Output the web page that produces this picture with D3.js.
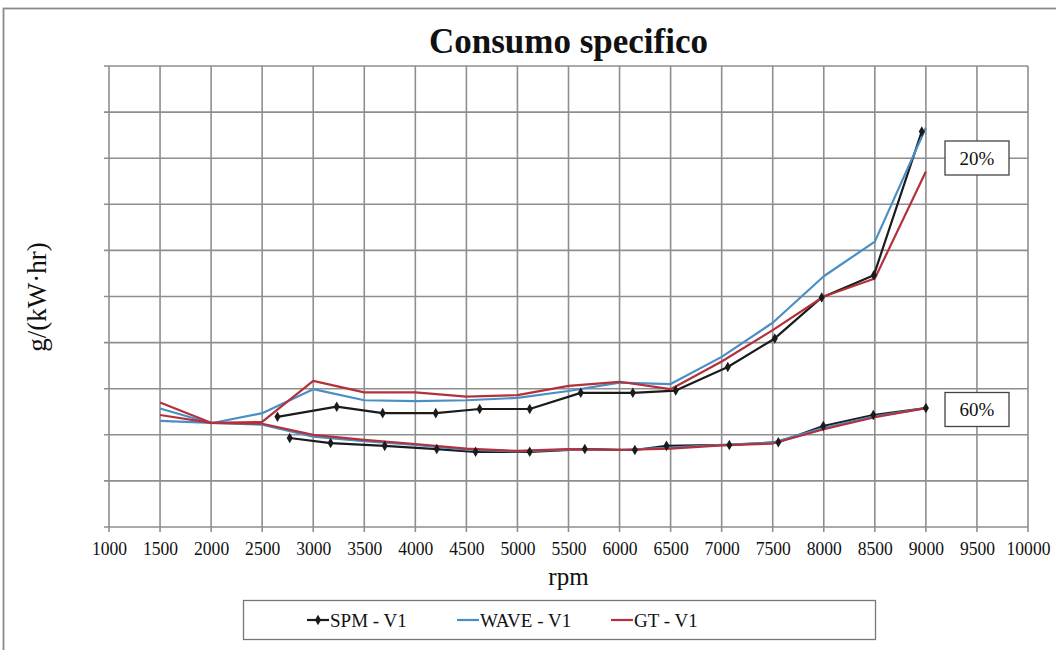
<!DOCTYPE html>
<html>
<head>
<meta charset="utf-8">
<script src="https://cdn.jsdelivr.net/npm/d3@7"></script>
<style>
  html, body { margin: 0; padding: 0; background: #fff; }
  svg { display: block; }
  text { font-family: "Liberation Serif", "Times New Roman", serif; fill: #111; }
</style>
</head>
<body>
<svg id="chart" width="1056" height="650"></svg>
<script>
// Engine speed ticks (rpm)
const rpmTicks = [1000,1500,2000,2500,3000,3500,4000,4500,5000,5500,6000,6500,7000,7500,8000,8500,9000,9500,10000];
// Vertical grid levels (specific consumption, grid units)
const yTicks = [0,1,2,3,4,5,6,7,8,9,10];

// SPM - V1, 20% load
const spm20Rpm = [2650,3230,3680,4200,4630,5120,5620,6130,6550,7060,7520,7980,8490,8960];
const spm20Val = [2.39,2.61,2.47,2.47,2.56,2.56,2.91,2.91,2.96,3.47,4.09,4.98,5.46,8.58];
// SPM - V1, 60% load
const spm60Rpm = [2770,3170,3700,4210,4590,5120,5660,6150,6460,7075,7555,7995,8485,9000];
const spm60Val = [1.93,1.82,1.76,1.69,1.63,1.63,1.69,1.67,1.76,1.78,1.84,2.19,2.43,2.58];

// WAVE / GT simulations share the same rpm sweep
const simRpm = [1500,2000,2500,3000,3500,4000,4500,5000,5500,6000,6500,7000,7500,8000,8500,9000];
const wave20Val = [2.57,2.25,2.47,2.99,2.75,2.73,2.75,2.80,2.95,3.13,3.10,3.69,4.43,5.44,6.19,8.66];
const wave60Val = [2.30,2.26,2.22,1.96,1.86,1.78,1.68,1.64,1.68,1.67,1.72,1.78,1.83,2.15,2.40,2.58];
const gt20Val   = [2.70,2.26,2.28,3.17,2.92,2.92,2.83,2.86,3.06,3.15,2.99,3.59,4.27,5.00,5.39,7.71];
const gt60Val   = [2.43,2.26,2.24,2.00,1.89,1.80,1.70,1.65,1.69,1.67,1.70,1.77,1.81,2.12,2.38,2.58];

const seriesNames = ["SPM - V1", "WAVE - V1", "GT - V1"];
const seriesColors = ["#1b1b1b", "#4a8fc4", "#b4303c"];
const loadLabels = ["20%", "60%"];

const svg = d3.select("#chart");
const plot = { left: 109, right: 1028, top: 66, bottom: 527 };

const x = d3.scaleLinear().domain([1000, 10000]).range([plot.left, plot.right]);
const y = d3.scaleLinear().domain([0, 10]).range([plot.bottom, plot.top]);

// outer frame
svg.append("rect")
  .attr("x", 3.5).attr("y", 8.5).attr("width", 1100).attr("height", 700)
  .attr("fill", "none").attr("stroke", "#8a8a8a").attr("stroke-width", 1.8);

// grid lines (with short outside ticks)
const gridColor = "#8e8e8e";
svg.append("g").selectAll("line").data(rpmTicks).join("line")
  .attr("x1", d => x(d)).attr("x2", d => x(d))
  .attr("y1", plot.top).attr("y2", plot.bottom + 5)
  .attr("stroke", gridColor).attr("stroke-width", 1.6);
svg.append("g").selectAll("line").data(yTicks).join("line")
  .attr("x1", plot.left - 5).attr("x2", plot.right)
  .attr("y1", d => y(d)).attr("y2", d => y(d))
  .attr("stroke", gridColor).attr("stroke-width", 1.6);

// x axis labels (slightly condensed serif)
const xAxis = d3.axisBottom(x).tickValues(rpmTicks).tickSize(0).tickPadding(14).tickFormat(d3.format("d"));
const gx = svg.append("g").attr("transform", `translate(0,${plot.bottom})`).call(xAxis);
gx.select(".domain").remove();
gx.selectAll("text")
  .style("font-family", '"Liberation Serif", serif')
  .style("font-size", "19.5px").attr("fill", "#111")
  .attr("transform", "scale(0.9,1)");

// titles
svg.append("text").attr("x", (plot.left + plot.right) / 2).attr("y", 53)
  .attr("text-anchor", "middle").attr("font-weight", "bold").attr("font-size", 35)
  .text("Consumo specifico");
svg.append("text").attr("x", (plot.left + plot.right) / 2).attr("y", 585)
  .attr("text-anchor", "middle").attr("font-size", 25).text("rpm");
svg.append("text").attr("transform", "translate(46,297) rotate(-90)")
  .attr("text-anchor", "middle").attr("font-size", 27).text("g/(kW·hr)");

const line = d3.line().x(d => x(d[0])).y(d => y(d[1]));
const zip = (a, b) => a.map((v, i) => [v, b[i]]);

const curves = [
  { pts: zip(spm20Rpm, spm20Val), c: 0 },
  { pts: zip(spm60Rpm, spm60Val), c: 0 },
  { pts: zip(simRpm, wave20Val), c: 1 },
  { pts: zip(simRpm, wave60Val), c: 1 },
  { pts: zip(simRpm, gt20Val), c: 2 },
  { pts: zip(simRpm, gt60Val), c: 2 }
];

const gl = svg.append("g");
curves.forEach(cv => {
  gl.append("path").attr("d", line(cv.pts))
    .attr("fill", "none").attr("stroke", seriesColors[cv.c])
    .attr("stroke-width", 2.2).attr("stroke-linejoin", "round");
});

// SPM markers
const diamond = d3.symbol().type(d3.symbolDiamond).size(32);
[zip(spm20Rpm, spm20Val), zip(spm60Rpm, spm60Val)].forEach(pts => {
  gl.append("g").selectAll("path").data(pts).join("path")
    .attr("transform", d => `translate(${x(d[0])},${y(d[1])})`)
    .attr("d", diamond).attr("fill", seriesColors[0]);
});

// load annotations
const loadBoxes = [
  { label: loadLabels[0], cy: 158 },
  { label: loadLabels[1], cy: 409.5 }
];
loadBoxes.forEach(b => {
  svg.append("rect").attr("x", 945).attr("y", b.cy - 17).attr("width", 64).attr("height", 34)
    .attr("fill", "#fff").attr("stroke", "#444").attr("stroke-width", 1.3);
  svg.append("text").attr("x", 977).attr("y", b.cy + 6.5).attr("text-anchor", "middle")
    .attr("font-size", 19).text(b.label);
});

// legend
svg.append("rect").attr("x", 243.5).attr("y", 600.5).attr("width", 632).attr("height", 39)
  .attr("fill", "#fff").attr("stroke", "#777").attr("stroke-width", 1.3);
const legX = [307, 457, 611];
seriesNames.forEach((name, i) => {
  const g = svg.append("g").attr("transform", `translate(${legX[i]},620)`);
  g.append("line").attr("x1", 0).attr("x2", 22).attr("y1", 0).attr("y2", 0)
    .attr("stroke", seriesColors[i]).attr("stroke-width", 2.2);
  if (i === 0) g.append("path").attr("transform", "translate(11,0)").attr("d", diamond).attr("fill", seriesColors[0]);
  g.append("text").attr("x", 23).attr("y", 6.5).attr("font-size", 19).text(name);
});
</script>
</body>
</html>
